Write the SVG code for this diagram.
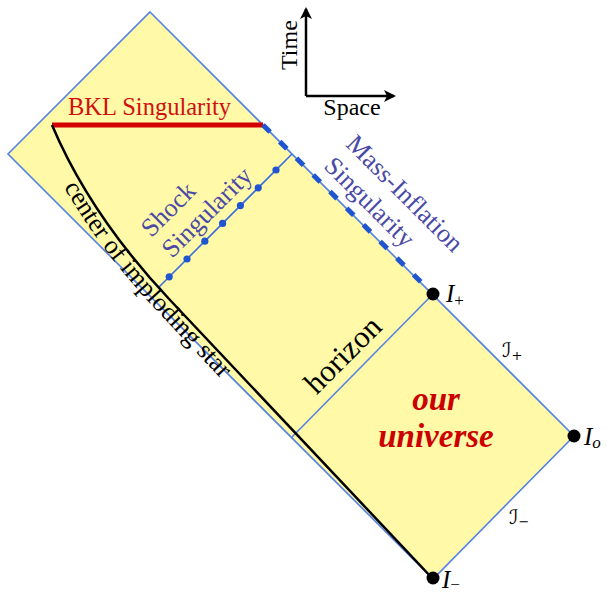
<svg xmlns="http://www.w3.org/2000/svg" width="607" height="595" viewBox="0 0 607 595">
<defs>
<style>
.lbl{font-family:"Liberation Serif","Times New Roman",serif;}
.blue{fill:#4a4aa6;}
.edge{fill:none;stroke:#5582e4;stroke-width:1.6;}
.dot{fill:#000;}
.sdot{fill:#1f55d0;}
.math{font-family:"Liberation Serif","DejaVu Serif",serif;font-style:italic;fill:#000;}
.script{font-family:"DejaVu Serif","DejaVu Sans",serif;fill:#000;}
</style>
<marker id="ah" viewBox="0 0 12 12" refX="10" refY="6" markerWidth="12" markerHeight="12" markerUnits="userSpaceOnUse" orient="auto">
<path d="M0,0 L12,6 L0,12 L3,6 Z" fill="#000"/>
</marker>
<path id="starpath" d="M36.3,131.6 Q75.5,224.4 157.6,311.6 L420.6,590.6" fill="none"/>
</defs>
<rect width="607" height="595" fill="#fff"/>

<g id="spacetime">
<polygon points="150,12 574,436 433,579 8,154" style="fill:#fff9a8;stroke:#5582e4;stroke-width:1.6"/>
</g>

<g id="connectors">
<line id="horizon-line" x1="433" y1="294" x2="292" y2="437" class="edge"/>
<line id="bkl-line" x1="52" y1="125" x2="263" y2="125" stroke="#d40000" stroke-width="5"/>
<line id="mass-inflation-line" x1="263" y1="125" x2="433" y2="294" stroke="#1f55d0" stroke-width="5" stroke-dasharray="10 13.6"/>
<line id="shock-line" x1="292" y1="154" x2="158.5" y2="287.5" stroke="#3a6ee0" stroke-width="1.6"/>
<path id="star-center" d="M52,125 Q90,215 170,300 L433,579" fill="none" stroke="#000" stroke-width="2.5"/>
<g id="shock-dots">
<circle class="sdot" cx="276" cy="170" r="3.6"/>
<circle class="sdot" cx="258.2" cy="187.8" r="3.6"/>
<circle class="sdot" cx="240.4" cy="205.6" r="3.6"/>
<circle class="sdot" cx="222.6" cy="223.4" r="3.6"/>
<circle class="sdot" cx="204.8" cy="241.2" r="3.6"/>
<circle class="sdot" cx="187" cy="259" r="3.6"/>
<circle class="sdot" cx="169.2" cy="276.8" r="3.6"/>
</g>
<g id="axes">
<line x1="306" y1="96" x2="306" y2="9" stroke="#000" stroke-width="2.5" marker-end="url(#ah)"/>
<line x1="306" y1="96" x2="394" y2="96" stroke="#000" stroke-width="2.5" marker-end="url(#ah)"/>
</g>
</g>

<g id="labels">
<text class="lbl" x="68" y="115" font-size="24.5" fill="#d01010">BKL Singularity</text>
<text class="lbl" x="297" y="70" font-size="24" transform="rotate(-90 297 70)">Time</text>
<text class="lbl" x="352" y="115" font-size="24" text-anchor="middle">Space</text>
<text class="lbl blue" font-size="26" transform="rotate(45 344.7 145.3)" x="344.7" y="145.3">Mass-Inflation</text>
<text class="lbl blue" font-size="26" transform="rotate(45 322.8 167.2)" x="322.8" y="167.2">Singularity</text>
<text class="lbl blue" font-size="26" transform="rotate(-45 151.3 238.3)" x="151.3" y="238.3">Shock</text>
<text class="lbl blue" font-size="26" transform="rotate(-45 172 259)" x="172" y="259">Singularity</text>
<text class="lbl" font-size="26"><textPath href="#starpath" startOffset="62">center of imploding star</textPath></text>
<text class="lbl" font-size="31" text-anchor="middle" transform="rotate(-45 350 362)" x="350" y="362">horizon</text>
<text class="lbl" font-size="33" font-weight="bold" font-style="italic" fill="#cc0000" text-anchor="middle" x="436" y="410">our</text>
<text class="lbl" font-size="33" font-weight="bold" font-style="italic" fill="#cc0000" text-anchor="middle" x="436" y="447">universe</text>
</g>

<g id="I-plus">
<circle class="dot" cx="433" cy="294" r="6.5"/>
<text class="math" x="446" y="302" font-size="25">I<tspan font-size="17" dy="4" font-style="normal">+</tspan></text>
</g>
<g id="I-zero">
<circle class="dot" cx="574" cy="436" r="6.5"/>
<text class="math" x="584" y="445" font-size="25">I<tspan font-size="17" dy="3">o</tspan></text>
</g>
<g id="I-minus">
<circle class="dot" cx="433" cy="578" r="6.5"/>
<text class="math" x="442" y="588" font-size="25">I<tspan font-size="17" dy="2" font-style="normal">−</tspan></text>
</g>
<g id="scri-plus">
<text class="script" x="502" y="357" font-size="20">ℐ<tspan font-size="13" dy="3">+</tspan></text>
</g>
<g id="scri-minus">
<text class="script" x="509" y="524" font-size="20">ℐ<tspan font-size="13" dy="2">−</tspan></text>
</g>
</svg>
